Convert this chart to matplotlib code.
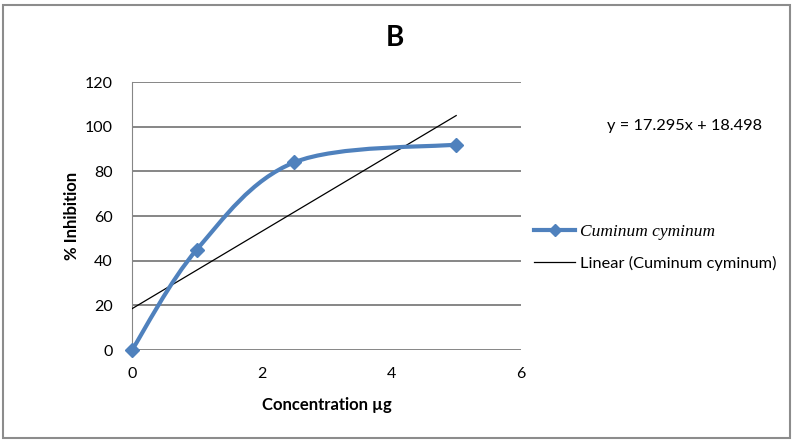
import numpy as np
import matplotlib
matplotlib.use("Agg")
import matplotlib.pyplot as plt
from matplotlib.path import Path
from matplotlib.patches import PathPatch, Rectangle
from matplotlib.lines import Line2D

# data
conc = [0, 1, 2.5, 5]
inhib = [0, 45, 84, 92]
slope, intercept = 17.295, 18.498
yticks = [0, 20, 40, 60, 80, 100, 120]
xticks = [0, 2, 4, 6]

BLUE = "#4f81bd"
GRID = "#868686"
FONT = "Lato"


def excel_smooth_path(xs, ys):
    """Bezier path through the points, Excel-style smoothing (tension 1/6)."""
    pts = np.column_stack([xs, ys]).astype(float)
    n = len(pts)
    verts = [pts[0]]
    codes = [Path.MOVETO]
    for i in range(n - 1):
        p0 = pts[i - 1] if i > 0 else pts[i]
        p1, p2 = pts[i], pts[i + 1]
        p3 = pts[i + 2] if i + 2 < n else pts[i + 1]
        c1 = p1 + (p2 - p0) / 6
        c2 = p2 - (p3 - p1) / 6
        verts += [c1, c2, p2]
        codes += [Path.CURVE4] * 3
    return Path(verts, codes)


fig = plt.figure(figsize=(7.93, 4.44), dpi=100)
fig.patches.append(Rectangle((0.004, 0.013), 0.992, 0.975, transform=fig.transFigure,
                             fill=False, edgecolor="#8c8c8c", lw=1.5))
ax = fig.add_axes([0.1665, 0.2117, 0.4905, 0.6036])

ax.set_xlim(0, 6)
ax.set_ylim(0, 120)
ax.set_xticks(xticks)
ax.set_yticks(yticks)
for s in ("top", "right", "bottom"):
    ax.spines[s].set_visible(False)
ax.spines["left"].set_color(GRID)
ax.tick_params(length=0, labelsize=11.5)
ax.tick_params(axis="y", pad=14)
ax.tick_params(axis="x", pad=12)
for lab in ax.get_xticklabels() + ax.get_yticklabels():
    lab.set_fontfamily(FONT)
ax.grid(axis="y", color=GRID, lw=1.4)
ax.set_axisbelow(True)

# trendline
tx = np.array([0, 5])
ax.plot(tx, slope * tx + intercept, color="black", lw=0.9, zorder=3)

# smoothed data line + markers
ax.add_patch(PathPatch(excel_smooth_path(conc, inhib), fill=False, edgecolor=BLUE,
                       lw=3, capstyle="round", zorder=4))
ax.plot(conc, inhib, ls="none", marker="D", ms=7, color=BLUE, zorder=5, clip_on=False)

ax.set_xlabel("Concentration µg", fontsize=12, fontweight="bold", fontfamily=FONT, labelpad=12)
ax.set_ylabel("% Inhibition", fontsize=12, fontweight="bold", fontfamily=FONT, labelpad=3)
fig.text(0.498, 0.914, "B", fontsize=20, fontweight="bold", fontfamily=FONT,
         ha="center", va="center")
fig.text(0.765, 0.716, "y = 17.295x + 18.498", fontsize=11.8, fontfamily=FONT,
         ha="left", va="center")

handles = [Line2D([], [], color=BLUE, lw=3, marker="D", ms=6),
           Line2D([], [], color="black", lw=0.9)]
leg = fig.legend(handles, ["Cuminum cyminum", "Linear (Cuminum cyminum)"],
                 loc="center left", bbox_to_anchor=(0.655, 0.443), frameon=False,
                 handlelength=2.5, handletextpad=0.3, labelspacing=1.0, fontsize=11.8)
for t in leg.get_texts():
    t.set_fontfamily(FONT)
leg.get_texts()[0].set_fontfamily("Liberation Serif")
leg.get_texts()[0].set_fontstyle("italic")
leg.get_texts()[0].set_fontsize(12.5)

fig.savefig("out.png", dpi=100)
